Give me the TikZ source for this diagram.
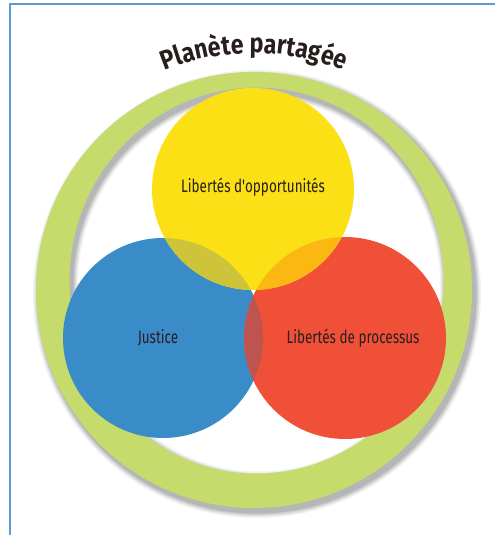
\documentclass[tikz,border=0pt]{standalone}
\usepackage{fontspec}
\setmainfont{Fira Sans}
\newfontfamily\labelfont[FakeStretch=0.75]{Fira Sans}
\newfontfamily\titlefont[FakeStretch=0.86]{Fira Sans Bold}
\usetikzlibrary{decorations.text}
\definecolor{ringgreen}{RGB}{197,219,108}
\definecolor{cyellow}{RGB}{252,224,22}
\definecolor{cblue}{RGB}{58,140,200}
\definecolor{cred}{RGB}{240,80,56}
\definecolor{yb}{RGB}{205,196,58}
\definecolor{yr}{RGB}{251,184,19}
\definecolor{br}{RGB}{190,84,80}
\definecolor{frameblue}{RGB}{91,155,213}
\definecolor{txt}{RGB}{40,30,30}
\begin{document}
\begin{tikzpicture}[x=1pt,y=1pt,
  lbl/.style={font=\labelfont\fontsize{18}{20}\selectfont, text=txt, inner sep=0pt},
  frame/.style={draw=frameblue, line width=2.6pt}]
\useasboundingbox (0,0) rectangle (495,535);
\fill[white] (0,0) rectangle (495,535);
% frame
\coordinate (tl) at (10,531);
\coordinate (tr) at (495,531);
\coordinate (bl) at (10,0);
\draw[frame] (bl) -- (tl) -- (tr);
% ring shadow
\foreach \d/\o in {6/0.05,4.5/0.07,3/0.09,1.5/0.1}{
  \fill[black, opacity=\o, even odd rule]
    (257,241) ellipse [x radius=218+\d, y radius=218+\d]
    (259,250.5) ellipse [x radius=187-\d, y radius=193-\d];
}
% ring
\fill[ringgreen, even odd rule]
  (254,245) ellipse [x radius=218, y radius=218]
  (256.5,254.5) ellipse [x radius=187, y radius=193];
% circles
\fill[cblue] (163,197) circle [radius=100];
\fill[cred] (345,197) circle [radius=101];
\fill[cyellow] (253,346) circle [radius=101];
\begin{scope}
  \clip (163,197) circle [radius=100];
  \fill[yb] (253,346) circle [radius=101];
  \fill[br] (345,197) circle [radius=101];
\end{scope}
\begin{scope}
  \clip (345,197) circle [radius=101];
  \fill[yr] (253,346) circle [radius=101];
\end{scope}
% labels
\node[lbl] (opp) at (253,348) {Libertés d'opportunités};
\node[lbl] (just) at (158,197) {Justice};
\node[lbl] (proc) at (353,197) {Libertés de processus};
% title
\path[decorate, decoration={text along path, text align=center,
  text={|\titlefont\fontsize{27}{29}\selectfont\color{txt}|Planète partagée}}]
  (254,245) ++(124:237) arc[start angle=124, end angle=56, radius=237];
\end{tikzpicture}
\end{document}
